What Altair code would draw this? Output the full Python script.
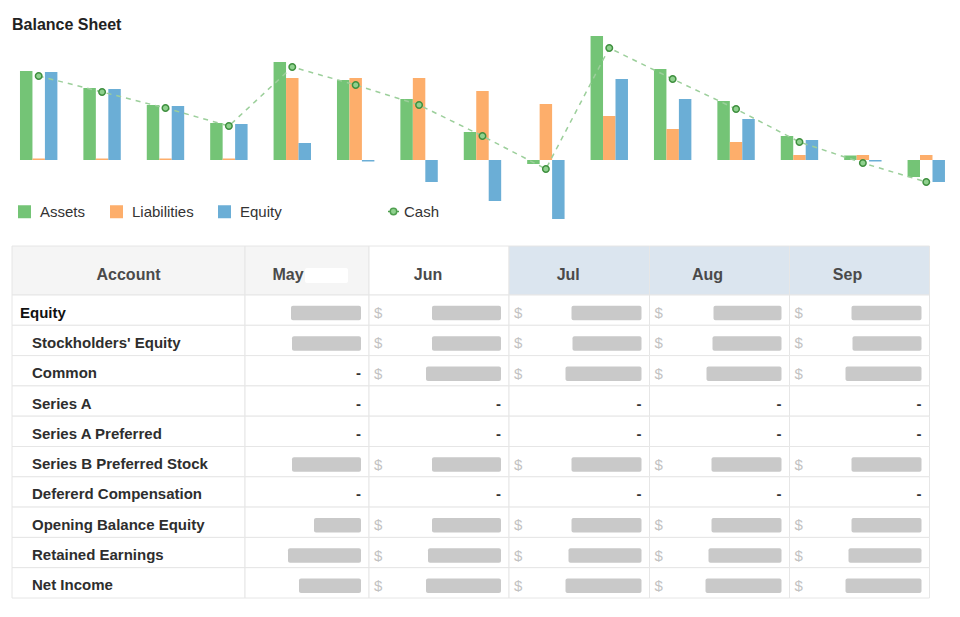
import altair as alt
import pandas as pd

# ---------------- chart data ----------------
periods = ["Jul 2016", "Aug 2016", "Sep 2016", "Oct 2016", "Nov 2016", "Dec 2016", "Jan 2017",
           "Feb 2017", "Mar 2017", "Apr 2017", "May 2017", "Jun 2017", "Jul 2017", "Aug 2017", "Sep 2017"]
assets      = [89, 72, 55, 37, 98, 80, 61, 28, -4, 124, 91, 59, 24, 4.5, -17]
liabilities = [1.5, 1.5, 1.5, 1.5, 82, 82, 82, 69, 56, 44, 31, 18, 5, 5, 5]
equity      = [88, 71, 54, 36, 17, -1.5, -22, -41, -59, 81, 61, 41, 20, -1.5, -22]
cash        = [84, 68, 52, 34, 93, 75, 55, 24, -9, 112, 81, 51, 18, -3, -22]
series_names = ["Assets", "Liabilities", "Equity"]
series_colors = ["#74c476", "#fdae6b", "#6baed6"]
cash_label = "Cash"

# ---------------- table data ----------------
accounts = ["Equity", "Stockholders' Equity", "Common", "Series A", "Series A Preferred",
            "Series B Preferred Stock", "Defererd Compensation", "Opening Balance Equity",
            "Retained Earnings", "Net Income"]
account_level = [0, 1, 1, 1, 1, 1, 1, 1, 1, 1]
table_months = ["May", "Jun", "Jul", "Aug", "Sep"]
# hidden (greyed-out) amounts: length of the grey block; 0 means "-"
hidden_may = [70, 69, 0, 0, 0, 69, 0, 47, 73, 62]
hidden_jun = [69, 69, 75, 0, 0, 69, 0, 69, 73, 75]
hidden_jul = [70, 69, 76, 0, 0, 70, 0, 70, 73, 76]
hidden_aug = [68, 69, 75, 0, 0, 70, 0, 70, 73, 76]
hidden_sep = [70, 69, 76, 0, 0, 70, 0, 70, 73, 76]
month_has_dollar = [False, True, True, True, True]

# ---------------- layout / style ----------------
W = 944
BAR_H = 185
TABLE_LEFT = 4
COL_W = [233, 124, 140, 140.5, 140, 140]
HEADER_H = 49
ROW_H = 30.3
TABLE_H = HEADER_H + ROW_H * len(accounts)
HEADER_FILLS = ["#f5f5f5", "#f5f5f5", "#ffffff", "#dbe5ef", "#dbe5ef", "#dbe5ef"]
HEADER_SHIFT = [0, -19, -11, -11, -12, -12]
FONT = "Liberation Sans"

# ---------------- top chart ----------------
bar_rows = []
for s, vals in zip(series_names, [assets, liabilities, equity]):
    for p, v in zip(periods, vals):
        bar_rows.append({"period": p, "series": s, "value": v})
bar_df = pd.DataFrame(bar_rows)
cash_df = pd.DataFrame({"period": periods, "cash": cash, "label": [cash_label] * len(periods)})

xscale = alt.Scale(domain=periods, paddingInner=0.41, paddingOuter=0.15, align=0.63)
yscale = alt.Scale(domain=[-60, 125], nice=False, zero=False)

bars = alt.Chart(bar_df).mark_bar().encode(
    x=alt.X("period:N", scale=xscale, axis=None, sort=periods),
    xOffset=alt.XOffset("series:N", sort=series_names,
                        scale=alt.Scale(domain=series_names, paddingInner=0, paddingOuter=0)),
    y=alt.Y("value:Q", scale=yscale, axis=None, stack=None),
    color=alt.Color("series:N", scale=alt.Scale(domain=series_names, range=series_colors),
                    legend=alt.Legend(title=None, orient="none", legendX=9, legendY=169,
                                      direction="horizontal", symbolType="square", symbolSize=169,
                                      symbolStrokeWidth=0, labelFontSize=15, labelFont=FONT,
                                      labelColor="#333333", labelOffset=8, columnPadding=23)),
)

line = alt.Chart(cash_df).mark_line(strokeDash=[5, 5], color="#9ccf9b", strokeWidth=1.5).encode(
    x=alt.X("period:N", scale=xscale, axis=None, sort=periods),
    y=alt.Y("cash:Q", scale=yscale, axis=None),
)

cash_symbol = ("M-1,0L-0.59,0M0.59,0L1,0M0.59,0A0.59,0.59,0,1,1,-0.59,0"
               "A0.59,0.59,0,1,1,0.59,0Z")
points = alt.Chart(cash_df).mark_point(filled=True, size=42, stroke="#3f8f3f",
                                       strokeWidth=1.5, opacity=1).encode(
    x=alt.X("period:N", scale=xscale, axis=None, sort=periods),
    y=alt.Y("cash:Q", scale=yscale, axis=None),
    fill=alt.Fill("label:N", scale=alt.Scale(domain=[cash_label], range=["#8fd18e"]),
                  legend=alt.Legend(title=None, orient="none", legendX=378, legendY=169,
                                    symbolType=cash_symbol, symbolSize=121,
                                    symbolStrokeColor="#4f9f4f", symbolStrokeWidth=1.5,
                                    labelFontSize=15, labelFont=FONT, labelColor="#333333",
                                    labelOffset=3)),
)

top = alt.layer(bars, line, points).properties(
    width=W, height=BAR_H,
    title=alt.TitleParams("Balance Sheet", anchor="start", font=FONT,
                          fontSize=16, fontWeight="bold", color="#222222", offset=2, dx=4),
)

# ---------------- table ----------------
edges = [TABLE_LEFT]
for w in COL_W:
    edges.append(edges[-1] + w)

hidden_by_month = [hidden_may, hidden_jun, hidden_jul, hidden_aug, hidden_sep]
headers = ["Account"] + table_months

cell_rows, head_rows, label_rows, mask_rows, dollar_rows, dash_rows = [], [], [], [], [], []
for c, h in enumerate(headers):
    cell_rows.append({"x": edges[c], "x2": edges[c + 1], "y": 0, "y2": HEADER_H,
                      "fill": HEADER_FILLS[c]})
    head_rows.append({"x": (edges[c] + edges[c + 1]) / 2 + HEADER_SHIFT[c],
                      "y": HEADER_H / 2 + 9.5, "text": h})
for r, acc in enumerate(accounts):
    top_y = HEADER_H + r * ROW_H
    mid = top_y + ROW_H / 2
    for c in range(len(headers)):
        cell_rows.append({"x": edges[c], "x2": edges[c + 1], "y": top_y, "y2": top_y + ROW_H,
                          "fill": "#ffffff"})
    label_rows.append({"x": edges[0] + 8 + 12 * account_level[r], "y": mid + 7.5, "text": acc,
                       "level": account_level[r]})
    for m in range(len(table_months)):
        c = m + 1
        w = hidden_by_month[m][r]
        right = edges[c + 1] - 8
        if w > 0:
            mask_rows.append({"x": right - w, "x2": right, "y": mid - 4.3, "y2": mid + 10.2})
            if month_has_dollar[m]:
                dollar_rows.append({"x": edges[c] + 5, "y": mid + 8, "text": "$"})
        else:
            dash_rows.append({"x": right, "y": mid + 7.5, "text": "-"})

# May header carries a white block hiding part of the heading
may_c = 1
may_mid = (edges[may_c] + edges[may_c + 1]) / 2
head_mask = pd.DataFrame([{"x": may_mid - 2, "x2": may_mid + 41, "y": 22, "y2": 37}])

tx = alt.Scale(domain=[0, W], nice=False, zero=False)
ty = alt.Scale(domain=[0, TABLE_H], nice=False, zero=False, reverse=True)
X = lambda f: alt.X(f, scale=tx, axis=None)
Y = lambda f: alt.Y(f, scale=ty, axis=None)

cells = alt.Chart(pd.DataFrame(cell_rows)).mark_rect(stroke="#e6e6e6", strokeWidth=1).encode(
    x=X("x:Q"), x2="x2:Q", y=Y("y:Q"), y2="y2:Q", fill=alt.Fill("fill:N", scale=None))
hmask = alt.Chart(head_mask).mark_rect(color="#ffffff", cornerRadius=2).encode(
    x=X("x:Q"), x2="x2:Q", y=Y("y:Q"), y2="y2:Q")
head_text = alt.Chart(pd.DataFrame(head_rows)).mark_text(
    font=FONT, fontSize=16, fontWeight="bold", color="#4a4a4a", align="center",
    baseline="alphabetic").encode(x=X("x:Q"), y=Y("y:Q"), text="text:N")
lab_df = pd.DataFrame(label_rows)
lab0 = alt.Chart(lab_df[lab_df.level == 0]).mark_text(
    font=FONT, fontSize=15, fontWeight="bold", color="#111111", align="left",
    baseline="alphabetic").encode(x=X("x:Q"), y=Y("y:Q"), text="text:N")
lab1 = alt.Chart(lab_df[lab_df.level == 1]).mark_text(
    font=FONT, fontSize=15, fontWeight="bold", color="#2e2e2e", align="left",
    baseline="alphabetic").encode(x=X("x:Q"), y=Y("y:Q"), text="text:N")
masks = alt.Chart(pd.DataFrame(mask_rows)).mark_rect(color="#c9c9c9", cornerRadius=2).encode(
    x=X("x:Q"), x2="x2:Q", y=Y("y:Q"), y2="y2:Q")
dollars = alt.Chart(pd.DataFrame(dollar_rows)).mark_text(
    font=FONT, fontSize=15, color="#c2c2c2", align="left", baseline="alphabetic").encode(
    x=X("x:Q"), y=Y("y:Q"), text="text:N")
dashes = alt.Chart(pd.DataFrame(dash_rows)).mark_text(
    font=FONT, fontSize=15, fontWeight="bold", color="#333333", align="right",
    baseline="alphabetic").encode(x=X("x:Q"), y=Y("y:Q"), text="text:N")

table = alt.layer(cells, hmask, head_text, lab0, lab1, masks, dollars, dashes).properties(
    width=W, height=TABLE_H)

chart = alt.vconcat(top, table, spacing=25).properties(
    padding={"top": 9, "left": 0, "right": 0, "bottom": 0}
).configure_view(stroke=None)
chart.save("out.html", embed_options={"renderer": "svg", "actions": False})
